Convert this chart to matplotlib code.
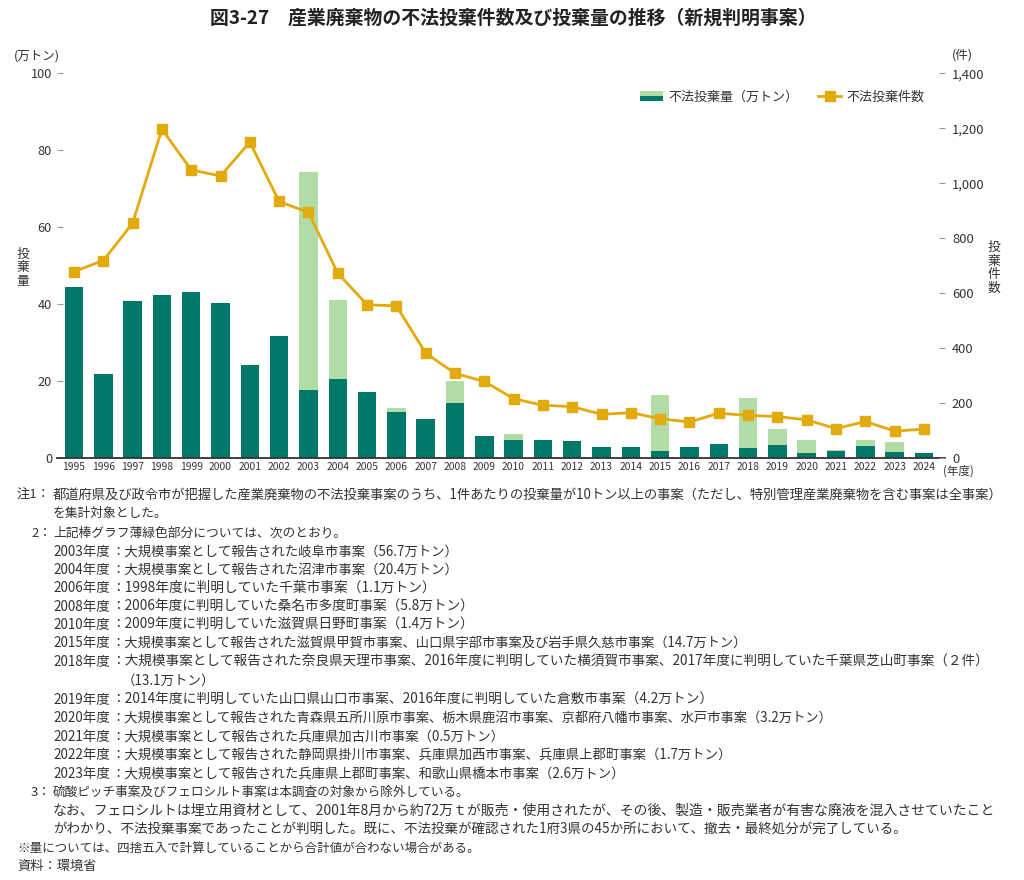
import matplotlib
matplotlib.use('Agg')
import matplotlib.pyplot as plt
from matplotlib.patches import Rectangle
from matplotlib.legend_handler import HandlerBase
from matplotlib.lines import Line2D
from matplotlib.ticker import FuncFormatter

plt.rcParams['font.family'] = ['Noto Sans CJK JP', 'DejaVu Sans']

# ---------------- data ----------------
years = [str(y) for y in range(1995, 2025)]
# 不法投棄量（万トン）: 濃緑部分
amount_base = [44.4, 21.9, 40.8, 42.4, 43.3, 40.3, 24.2, 31.8, 17.8, 20.6,
               17.2, 11.9, 10.1, 14.3, 5.6, 4.8, 4.8, 4.3, 2.9, 2.9,
               1.7, 2.8, 3.6, 2.6, 3.4, 1.4, 1.7, 3.1, 1.5, 1.3]
# 薄緑部分（大規模事案等）
amount_extra = [0, 0, 0, 0, 0, 0, 0, 0, 56.7, 20.4,
                0, 1.1, 0, 5.8, 0, 1.4, 0, 0, 0, 0,
                14.7, 0, 0, 13.1, 4.2, 3.2, 0.5, 1.7, 2.6, 0]
# 不法投棄件数
counts = [679, 719, 855, 1197, 1049, 1027, 1150, 934, 894, 673,
          558, 554, 382, 308, 279, 216, 192, 187, 159, 165,
          143, 131, 163, 155, 151, 139, 107, 133, 98, 105]
left_ticks = [0, 20, 40, 60, 80, 100]
right_ticks = [0, 200, 400, 600, 800, 1000, 1200, 1400]

title = '図3-27　産業廃棄物の不法投棄件数及び投棄量の推移（新規判明事案）'
legend_labels = ['不法投棄量（万トン）', '不法投棄件数']

DARK = '#00796a'
LIGHT = '#b2dca5'
GOLD = '#e2aa0c'
TXT = '#333333'

W, H = 1024, 880
fig = plt.figure(figsize=(W / 100, H / 100), dpi=100)

def fx(px):
    return px / W

def fy(py):
    return 1 - py / H

ax = fig.add_axes([fx(57), fy(458), fx(945) - fx(57), fy(73.5) - fy(458)])
x = list(range(len(years)))
ax.bar(x, amount_base, width=0.63, color=DARK, zorder=2)
ax.bar(x, amount_extra, bottom=amount_base, width=0.63, color=LIGHT, zorder=2)
ax.set_xlim(-0.58, 29.72)
ax.set_ylim(0, 100)
ax.set_yticks(left_ticks)
ax.set_xticks(x)
ax.set_xticklabels(years, fontsize=7.4, color=TXT)
for s in ['top', 'left', 'right']:
    ax.spines[s].set_visible(False)
ax.spines['bottom'].set_color('#333333')
ax.spines['bottom'].set_linewidth(1.3)
ax.tick_params(axis='y', direction='in', length=4, width=0.8, color='#999999',
               pad=3.6, labelsize=9.2, labelcolor=TXT)
ax.tick_params(axis='x', length=0, pad=3)

ax2 = ax.twinx()
ax2.plot(x, counts, color=GOLD, lw=2.0, marker='s', ms=7.5, zorder=3)
ax2.set_ylim(0, 1400)
ax2.set_yticks(right_ticks)
ax2.yaxis.set_major_formatter(FuncFormatter(lambda v, p: f'{int(v):,}'))
for s in ['top', 'left', 'right', 'bottom']:
    ax2.spines[s].set_visible(False)
ax2.tick_params(axis='y', direction='in', length=4, width=0.8, color='#999999',
                pad=5, labelsize=9.3, labelcolor=TXT)


class SplitKey:
    pass


class SplitHandler(HandlerBase):
    def create_artists(self, legend, orig_handle, xdescent, ydescent, width,
                       height, fontsize, trans):
        top = Rectangle((-xdescent, -ydescent + height / 2), width, height / 2,
                        facecolor=LIGHT, edgecolor='none', transform=trans)
        bot = Rectangle((-xdescent, -ydescent), width, height / 2,
                        facecolor=DARK, edgecolor='none', transform=trans)
        return [top, bot]


line_handle = Line2D([], [], color=GOLD, lw=2.0, marker='s', ms=7.5)
leg = ax2.legend([SplitKey(), line_handle], legend_labels,
                 handler_map={SplitKey: SplitHandler()},
                 ncol=2, frameon=False, loc='center left',
                 bbox_to_anchor=(fx(640), fy(97)), bbox_transform=fig.transFigure,
                 handlelength=1.75, handleheight=0.9, handletextpad=0.4,
                 columnspacing=1.55, borderpad=0, borderaxespad=0, fontsize=9.4)
for t in leg.get_texts():
    t.set_color(TXT)

# axis annotations
fig.text(fx(210), fy(18), title, ha='left', va='center', fontsize=13.6,
         fontweight='bold', color='#222222')
fig.text(fx(37), fy(56), '(万トン)', ha='center', va='center', fontsize=9, color=TXT)
fig.text(fx(962), fy(55), '(件)', ha='center', va='center', fontsize=9, color=TXT)
fig.text(fx(23), fy(268), '投\n棄\n量', ha='center', va='center', fontsize=9.2,
         linespacing=1.05, color=TXT)
fig.text(fx(994), fy(268), '投\n棄\n件\n数', ha='center', va='center', fontsize=9.2,
         linespacing=1.05, color=TXT)
fig.text(fx(958), fy(471), '(年度)', ha='center', va='center', fontsize=8.3, color=TXT)

# notes
NS = 9.5
def note(px, py, s, size=NS):
    fig.text(fx(px), fy(py), s, ha='left', va='center', fontsize=size, color=TXT)

note(17, 495, '注1：')
note(53, 495, '都道府県及び政令市が把握した産業廃棄物の不法投棄事案のうち、1件あたりの投棄量が10トン以上の事案（ただし、特別管理産業廃棄物を含む事案は全事案）', 9.58)
note(53, 513, 'を集計対象とした。', 9.2)
note(31, 533, '2：')
note(53, 533, '上記棒グラフ薄緑色部分については、次のとおり。', 9.2)

year_notes = [
    (552, '2003年度', '大規模事案として報告された岐阜市事案（56.7万トン）', 9.6),
    (570, '2004年度', '大規模事案として報告された沼津市事案（20.4万トン）', 9.6),
    (588, '2006年度', '1998年度に判明していた千葉市事案（1.1万トン）', 9.9),
    (607, '2008年度', '2006年度に判明していた桑名市多度町事案（5.8万トン）', 9.85),
    (625, '2010年度', '2009年度に判明していた滋賀県日野町事案（1.4万トン）', 9.85),
    (643, '2015年度', '大規模事案として報告された滋賀県甲賀市事案、山口県宇部市事案及び岩手県久慈市事案（14.7万トン）', 9.58),
    (662, '2018年度', '大規模事案として報告された奈良県天理市事案、2016年度に判明していた横須賀市事案、2017年度に判明していた千葉県芝山町事案（２件）', 9.82),
    (700, '2019年度', '2014年度に判明していた山口県山口市事案、2016年度に判明していた倉敷市事案（4.2万トン）', 9.86),
    (718, '2020年度', '大規模事案として報告された青森県五所川原市事案、栃木県鹿沼市事案、京都府八幡市事案、水戸市事案（3.2万トン）', 9.57),
    (737, '2021年度', '大規模事案として報告された兵庫県加古川市事案（0.5万トン）', 9.62),
    (755, '2022年度', '大規模事案として報告された静岡県掛川市事案、兵庫県加西市事案、兵庫県上郡町事案（1.7万トン）', 9.62),
    (774, '2023年度', '大規模事案として報告された兵庫県上郡町事案、和歌山県橋本市事案（2.6万トン）', 9.63),
]
for py, pre, body, sz in year_notes:
    note(53, py, pre, 9.7)
    note(111, py, '：' + body, sz)
note(122, 681, '（13.1万トン）', 9.7)

note(31, 792, '3：')
note(53, 792, '硫酸ピッチ事案及びフェロシルト事案は本調査の対象から除外している。', 9.1)
note(53, 811, 'なお、フェロシルトは埋立用資材として、2001年8月から約72万ｔが販売・使用されたが、その後、製造・販売業者が有害な廃液を混入させていたこと', 10.0)
note(53, 829, 'がわかり、不法投棄事案であったことが判明した。既に、不法投棄が確認された1府3県の45か所において、撤去・最終処分が完了している。', 9.74)
note(17, 848, '※量については、四捨五入で計算していることから合計値が合わない場合がある。', 9.0)
note(17, 866, '資料：環境省')

fig.savefig('out.png', dpi=100, facecolor='white')
